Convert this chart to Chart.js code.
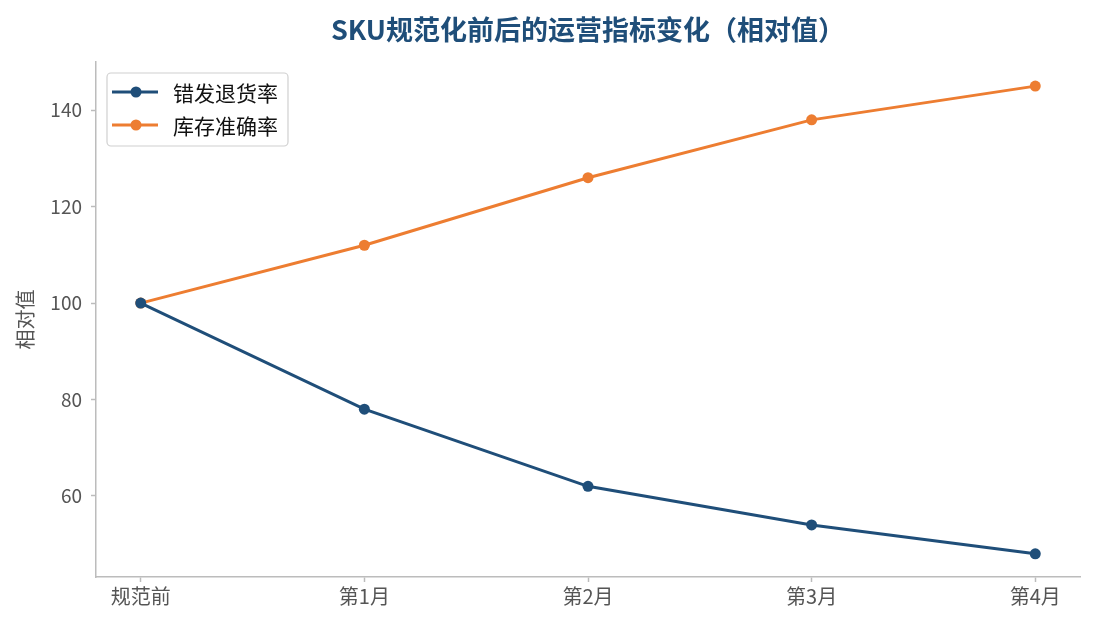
<!DOCTYPE html>
<html lang="zh">
<head>
  <meta charset="UTF-8" />
  <title>SKU规范化前后的运营指标变化</title>
  <script src="https://cdn.jsdelivr.net/npm/chart.js"></script>
  <style>
    html, body { margin: 0; padding: 0; background: #fff; }
    #wrap { width: 1095px; height: 630px; }
  </style>
</head>
<body>
  <div id="wrap"><canvas id="grafico"></canvas></div>

  <script>
    const categorias = ['规范前', '第1月', '第2月', '第3月', '第4月'];
    const errorRate = [100, 78, 62, 54, 48];
    const stockAcc = [100, 112, 126, 138, 145];
    const yTicks = [60, 80, 100, 120, 140];
    const titulo = 'SKU规范化前后的运营指标变化（相对值）';

    const azul = '#1f4e79';
    const naranja = '#ed7d31';
    const gris = '#bcbcbc';
    const fuente = "'Noto Sans CJK SC', 'Noto Sans', sans-serif";

    const series = [
      { label: '错发退货率', valores: errorRate, color: azul },
      { label: '库存准确率', valores: stockAcc, color: naranja }
    ];

    // titulo centrado sobre el area del grafico (no sobre todo el lienzo)
    const tituloCentrado = {
      id: 'tituloCentrado',
      afterDraw(chart) {
        const ctx = chart.ctx;
        const a = chart.chartArea;
        ctx.save();
        ctx.fillStyle = azul;
        ctx.font = 'bold 27px ' + fuente;
        ctx.textAlign = 'center';
        ctx.textBaseline = 'middle';
        ctx.fillText(titulo, (a.left + a.right) / 2, 30);
        ctx.restore();
      }
    };

    // leyenda dentro del area del grafico (arriba a la izquierda)
    const leyendaInterna = {
      id: 'leyendaInterna',
      afterDraw(chart) {
        const ctx = chart.ctx;
        const a = chart.chartArea;
        const x = a.left + 11, y = a.top + 11, w = 181, h = 73;
        ctx.save();
        ctx.fillStyle = 'rgba(255,255,255,0.9)';
        ctx.strokeStyle = '#d0d0d0';
        ctx.lineWidth = 1.2;
        ctx.beginPath();
        ctx.roundRect(x, y, w, h, 4);
        ctx.fill();
        ctx.stroke();
        series.forEach((s, i) => {
          const cy = y + 19 + i * 33;
          ctx.strokeStyle = s.color;
          ctx.lineWidth = 3;
          ctx.beginPath();
          ctx.moveTo(x + 5, cy);
          ctx.lineTo(x + 51, cy);
          ctx.stroke();
          ctx.fillStyle = s.color;
          ctx.beginPath();
          ctx.arc(x + 29, cy, 5.5, 0, Math.PI * 2);
          ctx.fill();
          ctx.fillStyle = '#111';
          ctx.font = '21px ' + fuente;
          ctx.textBaseline = 'middle';
          ctx.fillText(s.label, x + 66, cy + 1);
        });
        ctx.restore();
      }
    };

    const ctx = document.getElementById('grafico').getContext('2d');
    new Chart(ctx, {
      type: 'line',
      data: {
        datasets: series.map(s => ({
          label: s.label,
          data: s.valores.map((v, i) => ({ x: i, y: v })),
          borderColor: s.color,
          backgroundColor: s.color,
          borderWidth: 3,
          pointRadius: 5.5,
          pointBorderWidth: 0,
          pointHoverRadius: 5.5,
          fill: false,
          tension: 0
        }))
      },
      options: {
        responsive: true,
        maintainAspectRatio: false,
        animation: false,
        layout: { padding: { left: 0, right: 15, top: 62, bottom: 0 } },
        plugins: {
          legend: { display: false },
          tooltip: { enabled: false },
          title: { display: false }
        },
        scales: {
          x: {
            type: 'linear',
            min: -0.2,
            max: categorias.length - 1 + 0.2,
            afterBuildTicks(scale) {
              scale.ticks = categorias.map((c, i) => ({ value: i }));
            },
            afterFit(scale) { scale.height = 53; },
            ticks: {
              color: '#555',
              font: { family: fuente, size: 20 },
              padding: 2,
              autoSkip: false,
              maxRotation: 0,
              callback: v => categorias[v]
            },
            grid: { drawOnChartArea: false, drawTicks: true, tickLength: 5, color: gris, tickWidth: 1.5 },
            border: { color: gris, width: 1.5 }
          },
          y: {
            min: 43.2,
            max: 150,
            afterBuildTicks(scale) {
              scale.ticks = yTicks.map(v => ({ value: v }));
            },
            afterFit(scale) { scale.width = 96; },
            ticks: {
              color: '#555',
              font: { family: fuente, size: 19 },
              padding: 9
            },
            grid: { drawOnChartArea: false, drawTicks: true, tickLength: 5, color: gris, tickWidth: 1.5 },
            border: { color: gris, width: 1.5 },
            title: {
              display: true,
              text: '相对值',
              color: '#555',
              font: { family: fuente, size: 20 },
              padding: { top: 13, bottom: 0 }
            }
          }
        }
      },
      plugins: [tituloCentrado, leyendaInterna]
    });
  </script>
</body>
</html>
